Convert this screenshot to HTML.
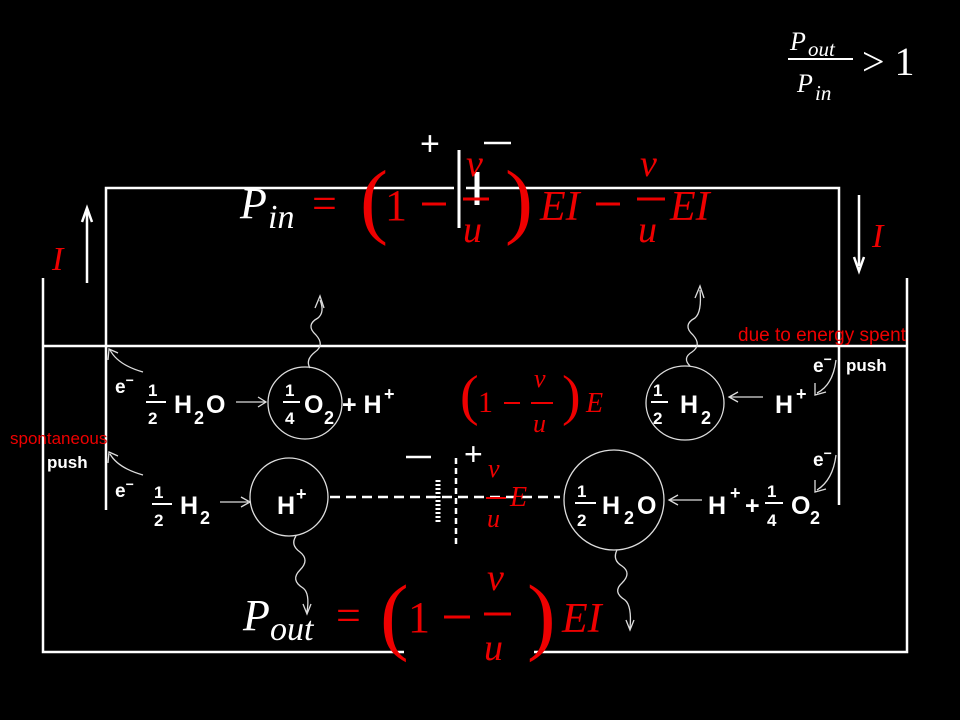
<!DOCTYPE html>
<html><head><meta charset="utf-8"><style>
html,body{margin:0;padding:0;background:#000;}
svg{display:block}
.w{fill:#fff;font-family:"Liberation Sans",sans-serif;font-weight:bold}
.m{font-family:"Liberation Serif",serif;font-style:italic}
.r{fill:#e00}
.ln{stroke:#fff;stroke-width:2.5;fill:none}
.th{stroke:#ddd;stroke-width:1.3;fill:none}
</style></head><body>
<svg width="960" height="720" viewBox="0 0 960 720" xmlns="http://www.w3.org/2000/svg">
<rect width="960" height="720" fill="#000"/>
<!-- tank -->
<path class="ln" d="M43 278 V652 H907 V278"/>
<line class="ln" x1="43" y1="346" x2="907" y2="346"/>
<!-- circuit -->
<path class="ln" d="M106 510 V188 H839 V505"/>
<!-- I arrows -->
<line class="ln" x1="87" y1="283" x2="87" y2="212" stroke-width="2"/>
<path d="M82 222 L87 208 L92 222" class="ln" stroke-width="2"/>
<line class="ln" x1="859" y1="195" x2="859" y2="266" stroke-width="2"/>
<path d="M854 257 L859 271 L864 257" class="ln" stroke-width="2"/>
<text x="52" y="270" class="m r" font-size="34">I</text>
<text x="872" y="247" class="m r" font-size="34">I</text>
<!-- top battery -->
<rect x="454" y="140" width="12" height="95" fill="#000"/>
<line x1="459" y1="150" x2="459" y2="228" stroke="#fff" stroke-width="3"/>
<line x1="477" y1="172" x2="477" y2="205" stroke="#fff" stroke-width="5"/>
<text x="420" y="155" fill="#fff" font-family="Liberation Sans" font-size="34">+</text>
<line x1="484" y1="143" x2="511" y2="143" stroke="#fff" stroke-width="2.5"/>
<!-- Pin equation -->
<text x="240" y="218" class="m" fill="#fff" font-size="44">P</text>
<text x="268" y="228" class="m" fill="#fff" font-size="34">in</text>
<text x="312" y="218" class="r" font-family="Liberation Serif" font-size="44">=</text>
<text x="360" y="228" class="r" font-family="Liberation Serif" font-size="84">(</text>
<text x="385" y="220" class="r" font-family="Liberation Serif" font-size="44">1</text>
<line x1="422" y1="204" x2="446" y2="204" stroke="#e00" stroke-width="3"/>
<text x="466" y="176" class="m r" font-size="38">v</text>
<line x1="463" y1="199" x2="489" y2="199" stroke="#e00" stroke-width="3"/>
<text x="463" y="242" class="m r" font-size="38">u</text>
<text x="505" y="228" class="r" font-family="Liberation Serif" font-size="84">)</text>
<text x="540" y="220" class="m r" font-size="42">EI</text>
<line x1="596" y1="204" x2="620" y2="204" stroke="#e00" stroke-width="3"/>
<text x="640" y="176" class="m r" font-size="38">v</text>
<line x1="637" y1="199" x2="665" y2="199" stroke="#e00" stroke-width="3"/>
<text x="638" y="242" class="m r" font-size="38">u</text>
<text x="670" y="220" class="m r" font-size="42">EI</text>
<!-- ratio top right -->
<text x="790" y="50" class="m" fill="#fff" font-size="26">P</text>
<text x="808" y="56" class="m" fill="#fff" font-size="21">out</text>
<line x1="788" y1="59" x2="853" y2="59" stroke="#fff" stroke-width="2"/>
<text x="797" y="92" class="m" fill="#fff" font-size="26">P</text>
<text x="815" y="100" class="m" fill="#fff" font-size="21">in</text>
<text x="862" y="75" fill="#fff" font-family="Liberation Serif" font-size="40">&gt; 1</text>
<!-- labels -->
<text x="738" y="341" class="r" font-family="Liberation Sans" font-size="19">due to energy spent</text>
<text x="10" y="444" class="r" font-family="Liberation Sans" font-size="17">spontaneous</text>
<text x="47" y="468" class="w" font-size="17">push</text>
<text x="846" y="371" class="w" font-size="17">push</text>
<!-- left reactions -->
<text x="115" y="393" class="w" font-size="19">e<tspan dy="-8" font-size="14">−</tspan></text>
<text x="115" y="497" class="w" font-size="19">e<tspan dy="-8" font-size="14">−</tspan></text>
<path class="th" d="M143 372 Q118 365 110 350"/><path class="th" d="M108 360 L109 349 L118 353"/>
<path class="th" d="M143 475 Q118 468 110 454"/><path class="th" d="M108 463 L109 452 L118 456"/>
<g class="w" font-size="25">
<text x="148" y="396" font-size="17">1</text><line x1="146" y1="402" x2="166" y2="402" stroke="#fff" stroke-width="2"/><text x="148" y="424" font-size="17">2</text>
<text x="174" y="413">H</text><text x="194" y="424" font-size="18">2</text><text x="206" y="413">O</text>
<text x="285" y="396" font-size="17">1</text><line x1="283" y1="402" x2="300" y2="402" stroke="#fff" stroke-width="2"/><text x="285" y="424" font-size="17">4</text>
<text x="304" y="413">O</text><text x="324" y="424" font-size="18">2</text>
<text x="342" y="413">+ H</text><text x="384" y="400" font-size="18">+</text>
<text x="154" y="498" font-size="17">1</text><line x1="152" y1="504" x2="172" y2="504" stroke="#fff" stroke-width="2"/><text x="154" y="526" font-size="17">2</text>
<text x="180" y="514">H</text><text x="200" y="524" font-size="18">2</text>
<text x="277" y="514">H</text><text x="296" y="500" font-size="18">+</text>
</g>
<ellipse class="th" cx="305" cy="403" rx="37" ry="36"/>
<circle class="th" cx="289" cy="497" r="39"/>
<line class="th" x1="236" y1="402" x2="265" y2="402" stroke-width="2"/><path class="th" stroke-width="2" d="M258 397 L266 402 L258 407"/>
<line class="th" x1="220" y1="502" x2="248" y2="502" stroke-width="2"/><path class="th" stroke-width="2" d="M241 497 L250 502 L241 507"/>
<!-- right reactions -->
<ellipse class="th" cx="685" cy="403" rx="39" ry="37"/>
<circle class="th" cx="614" cy="500" r="50"/>
<g class="w" font-size="25">
<text x="653" y="396" font-size="17">1</text><line x1="651" y1="402" x2="668" y2="402" stroke="#fff" stroke-width="2"/><text x="653" y="424" font-size="17">2</text>
<text x="680" y="413">H</text><text x="701" y="424" font-size="18">2</text>
<text x="775" y="413">H</text><text x="796" y="400" font-size="18">+</text>
<text x="577" y="497" font-size="17">1</text><line x1="575" y1="503" x2="596" y2="503" stroke="#fff" stroke-width="2"/><text x="577" y="526" font-size="17">2</text>
<text x="602" y="514">H</text><text x="624" y="524" font-size="18">2</text><text x="637" y="514">O</text>
<text x="708" y="514">H</text><text x="730" y="499" font-size="18">+</text><text x="745" y="514">+</text>
<text x="767" y="497" font-size="17">1</text><line x1="765" y1="503" x2="783" y2="503" stroke="#fff" stroke-width="2"/><text x="767" y="526" font-size="17">4</text>
<text x="791" y="514">O</text><text x="810" y="524" font-size="18">2</text>
<text x="813" y="372" font-size="19">e<tspan dy="-8" font-size="14">−</tspan></text>
<text x="813" y="466" font-size="19">e<tspan dy="-8" font-size="14">−</tspan></text>
</g>
<path class="th" stroke-width="2" d="M836 360 Q833 385 817 393"/><path class="th" stroke-width="2" d="M815 383 L815 395 L826 392"/>
<path class="th" stroke-width="2" d="M836 455 Q833 480 817 490"/><path class="th" stroke-width="2" d="M815 480 L815 492 L826 489"/>
<line class="th" stroke-width="2" x1="730" y1="397" x2="763" y2="397"/><path class="th" stroke-width="2" d="M738 392 L729 397 L738 402"/>
<line class="th" stroke-width="2" x1="670" y1="500" x2="702" y2="500"/><path class="th" stroke-width="2" d="M678 495 L669 500 L678 505"/>
<!-- middle -->
<text x="460" y="414" class="r" font-family="Liberation Serif" font-size="56">(</text>
<text x="478" y="412" class="r" font-family="Liberation Serif" font-size="30">1</text>
<line x1="504" y1="403" x2="520" y2="403" stroke="#e00" stroke-width="2"/>
<text x="534" y="387" class="m r" font-size="26">v</text>
<line x1="531" y1="403" x2="553" y2="403" stroke="#e00" stroke-width="2"/>
<text x="533" y="432" class="m r" font-size="26">u</text>
<text x="562" y="414" class="r" font-family="Liberation Serif" font-size="56">)</text>
<text x="586" y="412" class="m r" font-size="28">E</text>
<!-- bottom battery -->
<line x1="330" y1="497" x2="560" y2="497" stroke="#fff" stroke-width="2.5" stroke-dasharray="10,6"/>
<line x1="438" y1="480" x2="438" y2="522" stroke="#fff" stroke-width="5" stroke-dasharray="2,2"/>
<line x1="456" y1="458" x2="456" y2="545" stroke="#fff" stroke-width="2.5" stroke-dasharray="6,4"/>
<line x1="406" y1="457" x2="431" y2="457" stroke="#fff" stroke-width="2.5"/>
<text x="464" y="465" fill="#fff" font-family="Liberation Sans" font-size="32">+</text>
<text x="488" y="477" class="m r" font-size="26">v</text>
<line x1="486" y1="498" x2="506" y2="498" stroke="#e00" stroke-width="2"/>
<text x="487" y="527" class="m r" font-size="26">u</text>
<text x="510" y="506" class="m r" font-size="28">E</text>
<!-- wavy lines -->
<path class="th" stroke-width="1.5" d="M310 368 Q305 360 315 352 Q325 345 316 335 Q305 325 318 318 Q325 312 320 300"/>
<path class="th" stroke-width="1.5" d="M315 308 L320 296 L324 308"/>
<path class="th" stroke-width="1.5" d="M690 366 Q682 358 692 352 Q702 345 693 335 Q682 325 695 318 Q702 312 700 290"/>
<path class="th" stroke-width="1.5" d="M695 298 L700 286 L704 298"/>
<path class="th" stroke-width="1.5" d="M296 536 Q290 545 300 552 Q310 560 300 570 Q290 580 303 588 Q310 593 307 612"/>
<path class="th" stroke-width="1.5" d="M303 604 L307 614 L311 604"/>
<path class="th" stroke-width="1.5" d="M617 550 Q612 560 622 566 Q632 573 622 583 Q612 592 625 600 Q632 606 630 628"/>
<path class="th" stroke-width="1.5" d="M626 620 L630 630 L634 620"/>
<!-- Pout equation -->
<rect x="404" y="645" width="130" height="14" fill="#000"/>
<text x="243" y="630" class="m" fill="#fff" font-size="44">P</text>
<text x="270" y="640" class="m" fill="#fff" font-size="34">out</text>
<text x="336" y="630" class="r" font-family="Liberation Serif" font-size="44">=</text>
<text x="380" y="644" class="r" font-family="Liberation Serif" font-size="86">(</text>
<text x="408" y="632" class="r" font-family="Liberation Serif" font-size="44">1</text>
<line x1="444" y1="617" x2="470" y2="617" stroke="#e00" stroke-width="3"/>
<text x="487" y="590" class="m r" font-size="38">v</text>
<line x1="484" y1="614" x2="511" y2="614" stroke="#e00" stroke-width="3"/>
<text x="484" y="660" class="m r" font-size="38">u</text>
<text x="527" y="644" class="r" font-family="Liberation Serif" font-size="86">)</text>
<text x="562" y="632" class="m r" font-size="42">EI</text>
</svg>
</body></html>
